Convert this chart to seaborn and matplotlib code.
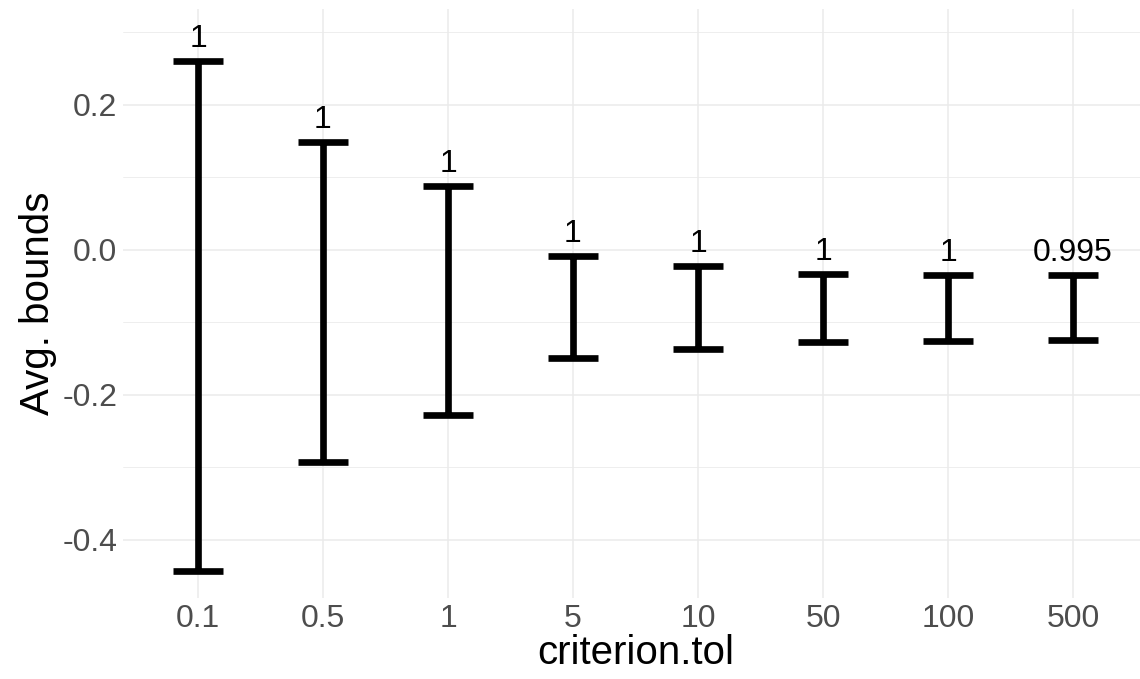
import numpy as np
import pandas as pd
import matplotlib
matplotlib.use("Agg")
import matplotlib.pyplot as plt
import seaborn as sns

# du lieu doc tu hinh
tol_labels = ["0.1", "0.5", "1", "5", "10", "50", "100", "500"]
lower = [-0.443, -0.292, -0.228, -0.149, -0.137, -0.127, -0.126, -0.124]
upper = [0.261, 0.149, 0.088, -0.008, -0.022, -0.033, -0.035, -0.035]
coverage = ["1", "1", "1", "1", "1", "1", "1", "0.995"]

df = pd.DataFrame({
    "criterion.tol": tol_labels * 2,
    "bound": lower + upper,
})

sns.set_theme(style="whitegrid")
plt.rcParams["font.family"] = ["Liberation Sans", "DejaVu Sans"]
plt.rcParams["axes.unicode_minus"] = False

fig = plt.figure(figsize=(11.4, 6.79), dpi=100)
ax = fig.add_axes([123 / 1140, 1 - 598 / 679, (1148 - 123) / 1140, (598 - 9) / 679])

sns.pointplot(data=df, x="criterion.tol", y="bound", order=tol_labels,
              errorbar=lambda v: (v.min(), v.max()), capsize=0.4,
              linestyle="none", marker="", color="black",
              err_kws={"linewidth": 4.8, "solid_capstyle": "butt"}, ax=ax)
for ln in ax.lines:
    ln.set_solid_capstyle("butt")

# nhan phia tren moi thanh
for i, lab in enumerate(coverage):
    ax.annotate(lab, xy=(i, upper[i]), xytext=(0, 10), textcoords="offset points",
                ha="center", va="baseline", fontsize=23, color="black")

ax.set_xlim(-0.6, 7.6)
ax.set_ylim(-0.48, 0.332)
ax.set_yticks([-0.4, -0.2, 0.0, 0.2])
ax.set_yticklabels(["-0.4", "-0.2", "0.0", "0.2"])
ax.set_yticks([-0.3, -0.1, 0.1, 0.3], minor=True)
ax.grid(True, which="major", color="#EBEBEB", linewidth=1.1)
ax.grid(True, which="minor", axis="y", color="#EBEBEB", linewidth=0.6)
for s in ax.spines.values():
    s.set_visible(False)
ax.set_facecolor("white")
ax.tick_params(axis="both", which="both", length=0, labelsize=23, labelcolor="#4D4D4D", pad=4)
ax.set_xlabel("criterion.tol", fontsize=29, color="black", labelpad=0)
ax.set_ylabel("Avg. bounds", fontsize=29, color="black", labelpad=4)

fig.savefig("out.png", dpi=100)
